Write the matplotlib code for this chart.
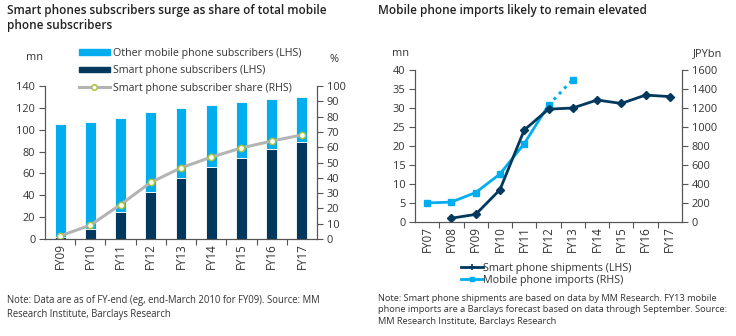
import numpy as np
import matplotlib
matplotlib.use("Agg")
from matplotlib import pyplot as plt
from matplotlib.lines import Line2D
from matplotlib.patches import Patch

plt.rcParams['font.family'] = ['Open Sans', 'DejaVu Sans']

# left chart data
years_l = ['FY09', 'FY10', 'FY11', 'FY12', 'FY13', 'FY14', 'FY15', 'FY16', 'FY17']
total_subs = [105.5, 107.5, 111, 116, 120, 123, 125.5, 128, 130]
smart_subs = [2, 9.5, 25, 43, 55.5, 66, 74.5, 82, 88.5]
smart_share = [2, 9, 22.5, 37, 46.5, 53.5, 59.5, 64, 68]

# right chart data
years_r = ['FY07', 'FY08', 'FY09', 'FY10', 'FY11', 'FY12', 'FY13', 'FY14', 'FY15', 'FY16', 'FY17']
shipments = [np.nan, 1.0, 2.0, 8.5, 24.2, 29.7, 30.0, 32.1, 31.2, 33.4, 33.0]
imports = [200, 210, 310, 505, 825, 1230, 1500, np.nan, np.nan, np.nan, np.nan]

NAVY = '#00395D'
CYAN = '#00AEEF'
GREY_LINE = '#b4b4b4'
TXT = '#333333'
W, H = 736, 336

fig = plt.figure(figsize=(W / 100, H / 100), dpi=100)
rend = fig.canvas.get_renderer()


def size_for(s, target, **kw):
    # font size that gives string s a width of target pixels
    t = fig.text(0, 0, s, fontsize=10, **kw)
    w = t.get_window_extent(rend).width
    t.remove()
    return 10 * target / w


def ax_at(x0, y_top, x1, y_bot):
    return fig.add_axes([x0 / W, 1 - y_bot / H, (x1 - x0) / W, (y_bot - y_top) / H])


note_l = ('Note: Data are as of FY-end (eg, end-March 2010 for FY09). Source: MM\n'
          'Research Institute, Barclays Research')
note_r = ('Note: Smart phone shipments are based on data by MM Research. FY13 mobile\n'
          'phone imports are a Barclays forecast based on data through September. Source:\n'
          'MM Research Institute, Barclays Research')

TICK = size_for('140', 19)
XTICK = size_for('FY07', 26)
LEG = size_for('Other mobile phone subscribers (LHS)', 189)
LEG_R = size_for('Smart phone shipments (LHS)', 150)
NOTE = size_for(note_l.split('\n')[0], 315)
NOTE_R = size_for(note_r.split('\n')[0], 343)
TITLE = size_for('Mobile phone imports likely to remain elevated', 269, fontweight='semibold')


def style(ax, n):
    ax.spines['top'].set_visible(False)
    for s in ['left', 'right', 'bottom']:
        ax.spines[s].set_color('#555555')
        ax.spines[s].set_linewidth(0.8)
    ax.set_xlim(-0.5, n - 0.5)
    ax.set_xticks(np.arange(n - 1) + 0.5, minor=True)
    ax.tick_params(axis='x', which='major', length=0, pad=3, labelrotation=90,
                   labelsize=XTICK, colors=TXT)
    ax.tick_params(axis='x', which='minor', length=4, color='#555555', width=0.8)
    ax.tick_params(axis='y', length=4, color='#555555', width=0.8, labelsize=TICK,
                   labelcolor=TXT, pad=3)


# ---- left chart
ax1 = ax_at(45, 86, 317, 239)
x = np.arange(len(years_l))
other = np.array(total_subs) - np.array(smart_subs)
ax1.bar(x, smart_subs, width=0.36, color=NAVY, edgecolor='white', linewidth=0.6)
ax1.bar(x, other, width=0.36, bottom=smart_subs, color=CYAN, edgecolor='white', linewidth=0.6)
ax1.set_ylim(0, 140)
ax1.set_yticks(range(0, 141, 20))
ax1.set_xticks(x)
ax1.set_xticklabels(years_l)
style(ax1, len(years_l))

ax1r = ax1.twinx()
ax1r.plot(x, smart_share, color=GREY_LINE, lw=2.2, marker='o', ms=4.5,
          mfc='white', mec='#a9c23f', mew=1.1)
ax1r.set_ylim(0, 100)
ax1r.set_yticks(range(0, 101, 10))
style(ax1r, len(years_l))

handles = [Patch(color=CYAN), Patch(color=NAVY),
           Line2D([], [], color=GREY_LINE, lw=2.2, marker='o', ms=4, mfc='white',
                  mec='#a9c23f', mew=1.1)]
labels = ['Other mobile phone subscribers (LHS)', 'Smart phone subscribers (LHS)',
          'Smart phone subscriber share (RHS)']
fig.legend(handles, labels, loc='upper left', bbox_to_anchor=(79 / W, 1 - 48 / H),
           frameon=False, fontsize=LEG, handlelength=2.9, handleheight=0.45,
           labelspacing=0.6, borderpad=0, borderaxespad=0, handletextpad=0.3,
           labelcolor=TXT)

fig.text(26 / W, 1 - 57 / H, 'mn', fontsize=TICK, color=TXT, va='center')
fig.text(330 / W, 1 - 59 / H, '%', fontsize=TICK, color=TXT, va='center')

# ---- right chart
ax2 = ax_at(415, 70, 682, 222)
xr = np.arange(len(years_r))
ax2.plot(xr, shipments, color=NAVY, lw=2, marker='D', ms=4.5)
ax2.set_ylim(0, 40)
ax2.set_yticks(range(0, 41, 5))
ax2.set_xticks(xr)
ax2.set_xticklabels(years_r)
style(ax2, len(years_r))

ax2r = ax2.twinx()
imp = np.array(imports, dtype=float)
ax2r.plot(xr[:6], imp[:6], color=CYAN, lw=2, marker='s', ms=4.5)
ax2r.plot(xr[5:7], imp[5:7], color=CYAN, lw=2.2, ls=(0, (1, 1.5)))
ax2r.plot(xr[6:7], imp[6:7], color=CYAN, marker='s', ms=4.5, ls='none')
ax2r.set_ylim(0, 1600)
ax2r.set_yticks(range(0, 1601, 200))
style(ax2r, len(years_r))
ax2.set_zorder(ax2r.get_zorder() + 1)
ax2.patch.set_visible(False)

h2 = [Line2D([], [], color=NAVY, lw=2, marker='+', ms=4, mew=1.2),
      Line2D([], [], color=CYAN, lw=2, marker='s', ms=3.5)]
fig.legend(h2, ['Smart phone shipments (LHS)', 'Mobile phone imports (RHS)'],
           loc='upper left', bbox_to_anchor=(461 / W, 1 - 263 / H), frameon=False,
           fontsize=LEG_R, handlelength=2.0, labelspacing=0.1, borderpad=0,
           borderaxespad=0, handletextpad=0.05, labelcolor=TXT)

fig.text(392 / W, 1 - 54 / H, 'mn', fontsize=TICK, color=TXT, va='center')
fig.text(693 / W, 1 - 54 / H, 'JPYbn', fontsize=TICK, color=TXT, va='center')

# ---- titles and notes
fig.text(7 / W, 1 - 4 / H,
         'Smart phones subscribers surge as share of total mobile\nphone subscribers',
         fontsize=TITLE, fontweight='semibold', color='#222222', va='top', linespacing=1.15)
fig.text(378 / W, 1 - 4 / H, 'Mobile phone imports likely to remain elevated',
         fontsize=TITLE, fontweight='semibold', color='#222222', va='top')

fig.text(7 / W, 1 - 295 / H, note_l, fontsize=NOTE, color=TXT, va='top', linespacing=1.35)
fig.text(378 / W, 1 - 294 / H, note_r, fontsize=NOTE_R, color=TXT, va='top',
         linespacing=1.35)

fig.savefig('out.png', dpi=100)
